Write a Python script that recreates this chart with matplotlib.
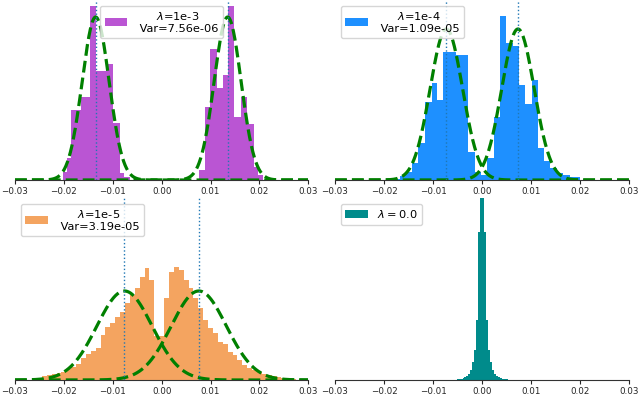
import numpy as np
import matplotlib.pyplot as plt

# ---- histogram data (bin edges, bar heights) ----
p1_edges = [-0.0202, -0.0194, -0.0185, -0.0165, -0.0147, -0.0134, -0.0113, -0.0100,
            -0.0086, -0.0077, -0.0065, 0.0076, 0.0089, 0.0099, 0.0113, 0.0125,
            0.0136, 0.0149, 0.0163, 0.0175, 0.0188, 0.0197, 0.0207]
p1_heights = [8, 22, 70, 83, 174, 109, 116, 57, 7, 3, 0,
              10, 73, 131, 92, 105, 174, 63, 83, 56, 13, 5]

p2_edges = [-0.0188, -0.0168, -0.0157, -0.0144, -0.0130, -0.0117, -0.0103, -0.0093,
            -0.0079, -0.0053, -0.0028, -0.0015, -0.0002, 0.0009, 0.0024, 0.0037,
            0.0049, 0.0062, 0.0076, 0.0087, 0.0101, 0.0114, 0.0127, 0.0139,
            0.0153, 0.0165, 0.0179, 0.0199]
p2_heights = [1.5, 4, 8, 17, 37, 78, 97, 80, 128, 125, 28, 8, 5,
              22, 63, 164, 137, 134, 95, 76, 100, 32, 19, 12, 7, 5, 3]

p3_centers = np.arange(-25, 28) * 0.001
p3_heights = [2.5, 4, 5, 6, 7, 8, 11, 13, 16, 22, 26, 29, 32, 45, 53, 57, 63, 68,
              77, 85, 92, 103, 112, 100, 44, 44, 82, 108, 113, 110, 100, 92, 82,
              72, 60, 52, 47, 38, 36, 28, 25, 20, 15, 12, 10, 8, 6, 5, 4, 3, 2,
              1.5, 1]

p4_edges = np.arange(-0.0060, 0.00601, 0.0004)
p4_heights = [0.5, 0.5, 1, 1, 1.5, 2, 3, 4, 6, 10, 18, 30, 60, 148, 240,
              240, 148, 60, 30, 18, 10, 6, 4, 3, 2, 1.5, 1, 1, 0.5, 0.5]

# gaussian fits: centre, variance, peak height
p1_mu, p1_var, p1_peak = 0.0135, 7.56e-06, 163
p2_mu, p2_var, p2_peak = 0.0073, 1.09e-05, 151
p3_mu, p3_var, p3_peak = 0.0076, 3.19e-05, 89

labels = ['$\\lambda$=1e-3\n Var=7.56e-06',
          '$\\lambda$=1e-4\n Var=1.09e-05',
          '$\\lambda$=1e-5\n Var=3.19e-05',
          '$\\lambda = 0.0$']
colors = ['mediumorchid', 'dodgerblue', 'sandybrown', 'darkcyan']

W, H = 640, 396
fig = plt.figure(figsize=(W / 100, H / 100), dpi=100)

def add_ax(x0, x1, y0, y1):
    return fig.add_axes([x0 / W, 1 - y1 / H, (x1 - x0) / W, (y1 - y0) / H])

ax1 = add_ax(15, 308.3, 0, 180)
ax2 = add_ax(335, 629.3, 0, 180)
ax3 = add_ax(15, 308.3, 198, 380)
ax4 = add_ax(335, 629.3, 198, 380)

x = np.linspace(-0.03, 0.03, 600)

def gauss_pair(ax, mu, var, peak):
    for m in (-mu, mu):
        ax.plot(x, peak * np.exp(-(x - m) ** 2 / (2 * var)), 'g--', lw=2.3)
    for m in (-mu, mu):
        ax.axvline(m, ls=':', color='C0', lw=1)

ax1.stairs(p1_heights, p1_edges, fill=True, color=colors[0], label=labels[0])
gauss_pair(ax1, p1_mu, p1_var, p1_peak)

ax2.stairs(p2_heights, p2_edges, fill=True, color=colors[1], label=labels[1])
gauss_pair(ax2, p2_mu, p2_var, p2_peak)

p3_edges = np.append(p3_centers - 0.0005, p3_centers[-1] + 0.0005)
ax3.stairs(p3_heights, p3_edges, fill=True, color=colors[2], label=labels[2])
gauss_pair(ax3, p3_mu, p3_var, p3_peak)

ax4.stairs(p4_heights, p4_edges, fill=True, color=colors[3], label=labels[3])

locs = ['upper center', 'upper left', 'upper left', 'upper left']
for ax, top, loc in zip([ax1, ax2, ax3, ax4], [180, 180, 182, 182], locs):
    ax.set_xlim(-0.03, 0.03)
    ax.set_ylim(0, top)
    ax.set_xticks(np.arange(-0.03, 0.031, 0.01))
    ax.set_yticks([])
    for s in ['left', 'right', 'top']:
        ax.spines[s].set_visible(False)
    ax.spines['bottom'].set_color('0.2')
    ax.tick_params(axis='x', labelsize=6.3, length=3, pad=2, colors='0.15')
    leg = ax.legend(loc=loc, fontsize=8.2)
    for t in leg.get_texts():
        t.set_multialignment('center')

fig.savefig('out.png', dpi=100)
